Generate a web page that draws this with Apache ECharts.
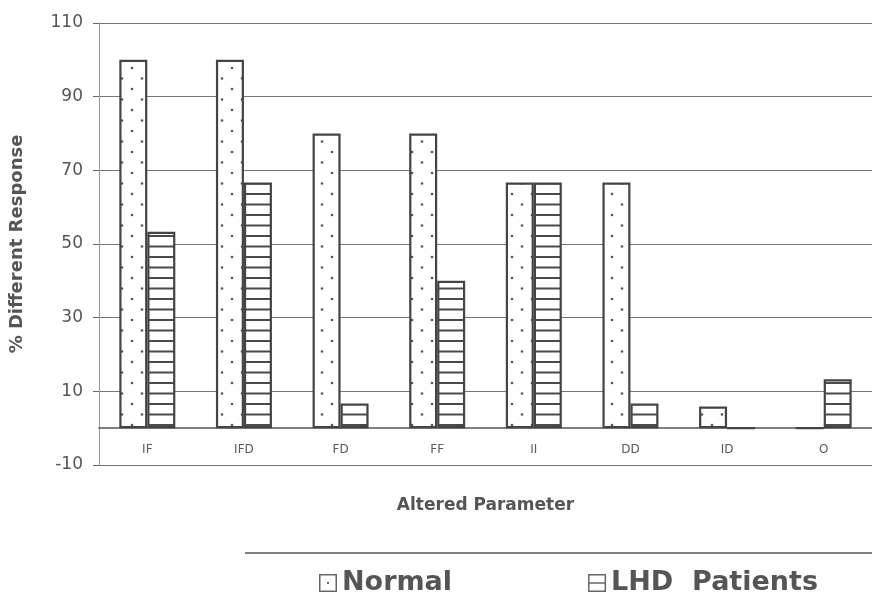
<!DOCTYPE html>
<html>
<head>
<meta charset="utf-8">
<script src="https://cdn.jsdelivr.net/npm/echarts@6/dist/echarts.min.js"></script>
<style>
html,body{margin:0;padding:0;background:#fff;}
#chart{width:872px;height:598px;}
</style>
</head>
<body>
<div id="chart"></div>
<script>
const categories = ['IF', 'IFD', 'FD', 'FF', 'II', 'DD', 'ID', 'O'];
const normalValues = [100, 100, 80, 80, 66.7, 66.7, 5.9, 0];
const lhdValues = [53.3, 66.7, 6.7, 40, 66.7, 6.7, 0, 13.3];
const yTicks = { min: -10, max: 110, interval: 20 };
const seriesNames = ['Normal', 'LHD  Patients'];
const xTitle = 'Altered Parameter';
const yTitle = '% Different Response';

function dotPattern() {
  const c = document.createElement('canvas');
  c.width = 20; c.height = 21;
  const g = c.getContext('2d');
  g.fillStyle = '#fff'; g.fillRect(0, 0, 20, 21);
  g.fillStyle = '#555';
  [[12, 5], [2, 15.5]].forEach(p => { g.beginPath(); g.arc(p[0], p[1], 1.3, 0, Math.PI * 2); g.fill(); });
  return c;
}
function stripePattern() {
  const c = document.createElement('canvas');
  c.width = 4; c.height = 21;
  const g = c.getContext('2d');
  g.fillStyle = '#fff'; g.fillRect(0, 0, 4, 21);
  g.fillStyle = '#4a4a4a';
  g.fillRect(0, 4, 4, 2);
  g.fillRect(0, 14.5, 4, 2);
  return c;
}

const chart = echarts.init(document.getElementById('chart'));
const font = '"DejaVu Sans", "Liberation Sans", Arial, sans-serif';
chart.setOption({
  animation: false,
  backgroundColor: '#fff',
  textStyle: { fontFamily: font },
  grid: { left: 99, right: 0, top: 23, bottom: 133, containLabel: false, outerBoundsMode: 'none' },
  xAxis: {
    type: 'category',
    data: categories,
    axisLine: { show: true, onZero: true, lineStyle: { color: '#555', width: 1.5 } },
    axisTick: { show: false },
    axisLabel: { color: '#5a5a5a', fontSize: 12, margin: -21, fontFamily: font },
    name: xTitle,
    nameLocation: 'middle',
    nameGap: 32,
    nameTextStyle: { color: '#555', fontSize: 17, fontWeight: 'bold', fontFamily: font }
  },
  yAxis: {
    type: 'value',
    min: yTicks.min, max: yTicks.max, interval: yTicks.interval,
    axisLine: { show: true, lineStyle: { color: '#999', width: 1 } },
    axisTick: { show: true, length: 6, lineStyle: { color: '#666' } },
    axisLabel: { color: '#555', fontSize: 17, margin: 16, fontFamily: font },
    splitLine: { show: true, lineStyle: { color: '#777', width: 1.2 } },
    name: yTitle,
    nameLocation: 'middle',
    nameRotate: 90,
    nameGap: 73,
    nameTextStyle: { color: '#555', fontSize: 18, fontWeight: 'bold', fontFamily: font }
  },
  legend: {
    left: 314, top: 563,
    itemGap: 136,
    itemWidth: 18, itemHeight: 18,
    textStyle: { color: '#555', fontSize: 27, fontWeight: 'bold', fontFamily: font, lineHeight: 30 },
    data: [
      { name: seriesNames[0], icon: 'path://M0,0H18V18H0Z M1.5,1.5V16.5H16.5V1.5Z M8,8H10V10H8Z', itemStyle: { color: '#666', borderWidth: 0 } },
      { name: seriesNames[1], icon: 'path://M0,0H18V18H0Z M1.5,1.5V16.5H16.5V1.5Z M1.5,8.2H16.5V9.8H1.5Z', itemStyle: { color: '#666', borderWidth: 0 } }
    ]
  },
  graphic: [{
    type: 'line',
    shape: { x1: 245, y1: 553, x2: 872, y2: 553 },
    style: { stroke: '#555', lineWidth: 1.5 }
  }],
  series: [
    {
      name: seriesNames[0], type: 'bar', data: normalValues,
      barWidth: 28, barGap: '0%',
      itemStyle: { color: { image: dotPattern(), repeat: 'repeat' }, borderColor: '#444', borderWidth: 2.2 }
    },
    {
      name: seriesNames[1], type: 'bar', data: lhdValues,
      barWidth: 28, barGap: '0%',
      itemStyle: { color: { image: stripePattern(), repeat: 'repeat' }, borderColor: '#444', borderWidth: 2.2 }
    }
  ]
});
</script>
</body>
</html>
